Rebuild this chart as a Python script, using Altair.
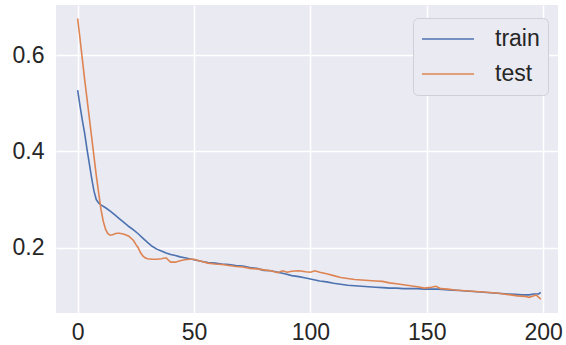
import altair as alt
import pandas as pd

train_epoch = [0, 1, 2, 3, 4, 5, 6, 7, 8, 9, 10, 12, 14, 16, 18, 20, 22, 24, 26, 28, 30,
               32, 34, 36, 38, 40, 42, 44, 46, 48, 50, 53, 56, 59, 62, 65, 68, 71, 74, 77,
               80, 83, 86, 89, 92, 95, 98, 101, 104, 107, 110, 113, 116, 119, 122, 125,
               128, 131, 134, 137, 140, 143, 146, 149, 152, 155, 158, 161, 164, 167, 170,
               173, 176, 179, 182, 185, 188, 191, 194, 196, 198, 199]
train_loss = [0.527, 0.495, 0.465, 0.438, 0.405, 0.375, 0.345, 0.318, 0.300, 0.293, 0.289,
              0.283, 0.276, 0.268, 0.260, 0.252, 0.244, 0.237, 0.229, 0.220, 0.211,
              0.203, 0.197, 0.193, 0.189, 0.186, 0.184, 0.181, 0.179, 0.177, 0.175,
              0.172, 0.169, 0.168, 0.166, 0.165, 0.163, 0.162, 0.159, 0.157, 0.153,
              0.152, 0.149, 0.146, 0.142, 0.140, 0.137, 0.134, 0.131, 0.129, 0.126,
              0.124, 0.122, 0.121, 0.120, 0.119, 0.118, 0.117, 0.116, 0.116, 0.115,
              0.115, 0.115, 0.114, 0.114, 0.114, 0.113, 0.112, 0.111, 0.110, 0.109,
              0.108, 0.107, 0.106, 0.105, 0.104, 0.103, 0.102, 0.102, 0.104, 0.104, 0.107]

test_epoch = [0, 1, 2, 3, 4, 5, 6, 7, 8, 9, 10, 11, 12, 13, 14, 15, 16, 17, 18, 20, 22,
              24, 25, 26, 27, 28, 29, 30, 32, 34, 36, 38, 39, 40, 42, 44, 46, 48, 50, 53,
              56, 59, 62, 65, 68, 71, 74, 77, 80, 83, 86, 88, 90, 92, 95, 98, 100, 102,
              104, 107, 110, 113, 116, 119, 122, 125, 128, 131, 134, 137, 140, 143, 146,
              149, 152, 154, 156, 159, 162, 165, 168, 171, 174, 177, 180, 183, 186, 189,
              192, 194, 196, 197, 199]
test_loss = [0.676, 0.635, 0.592, 0.55, 0.51, 0.47, 0.43, 0.39, 0.35, 0.315, 0.28, 0.255,
             0.238, 0.229, 0.226, 0.227, 0.229, 0.23, 0.23, 0.228, 0.224, 0.215, 0.207,
             0.200, 0.19, 0.183, 0.179, 0.177, 0.176, 0.176, 0.177, 0.179, 0.174, 0.170,
             0.170, 0.173, 0.175, 0.176, 0.176, 0.172, 0.168, 0.166, 0.165, 0.163, 0.161,
             0.160, 0.157, 0.156, 0.154, 0.152, 0.148, 0.152, 0.149, 0.151, 0.152, 0.150,
             0.149, 0.152, 0.149, 0.146, 0.142, 0.138, 0.136, 0.134, 0.133, 0.132, 0.131,
             0.130, 0.127, 0.125, 0.123, 0.121, 0.119, 0.116, 0.118, 0.120, 0.115, 0.114,
             0.112, 0.111, 0.110, 0.109, 0.108, 0.107, 0.106, 0.104, 0.102, 0.100, 0.099,
             0.097, 0.100, 0.102, 0.093]

series_names = ["train", "test"]
series_colors = ["#4C72B0", "#DD8452"]

df = pd.concat([
    pd.DataFrame({"epoch": train_epoch, "loss": train_loss, "series": "train"}),
    pd.DataFrame({"epoch": test_epoch, "loss": test_loss, "series": "test"}),
], ignore_index=True)

FONT = "Liberation Sans"
TXT = "#262626"

chart = alt.Chart(df).mark_line(strokeWidth=1.6, clip=True).encode(
    x=alt.X("epoch:Q",
            scale=alt.Scale(domain=[-9.3, 206.4], nice=False, zero=False),
            axis=alt.Axis(values=[0, 50, 100, 150, 200], title=None, labelPadding=8)),
    y=alt.Y("loss:Q",
            scale=alt.Scale(domain=[0.0644, 0.704], nice=False, zero=False),
            axis=alt.Axis(values=[0.2, 0.4, 0.6], format=".1f", title=None, labelPadding=12)),
    color=alt.Color("series:N",
                    scale=alt.Scale(domain=series_names, range=series_colors),
                    sort=series_names,
                    legend=alt.Legend(title=None, orient="none", legendX=357, legendY=13,
                                      symbolType="stroke", symbolSize=2704,
                                      symbolStrokeWidth=1.6, labelFontSize=23,
                                      labelFont=FONT, labelColor=TXT, labelOffset=20,
                                      clipHeight=26, rowPadding=9, padding=8,
                                      fillColor="#eaeaf2", strokeColor="#d0d0d8",
                                      cornerRadius=5)),
    order=alt.Order("epoch:Q"),
).properties(
    width=502, height=308,
    autosize=alt.AutoSizeParams(type="none"),
    padding={"left": 56, "top": 5, "right": 8, "bottom": 32},
    background="white",
).configure_view(
    fill="#eaeaf2", stroke=None
).configure_axis(
    domain=False, ticks=False, grid=True, gridColor="white", gridWidth=1.5,
    labelFont=FONT, labelFontSize=23, labelColor=TXT,
)

chart.save("out.html", embed_options={"renderer": "svg", "actions": False})
